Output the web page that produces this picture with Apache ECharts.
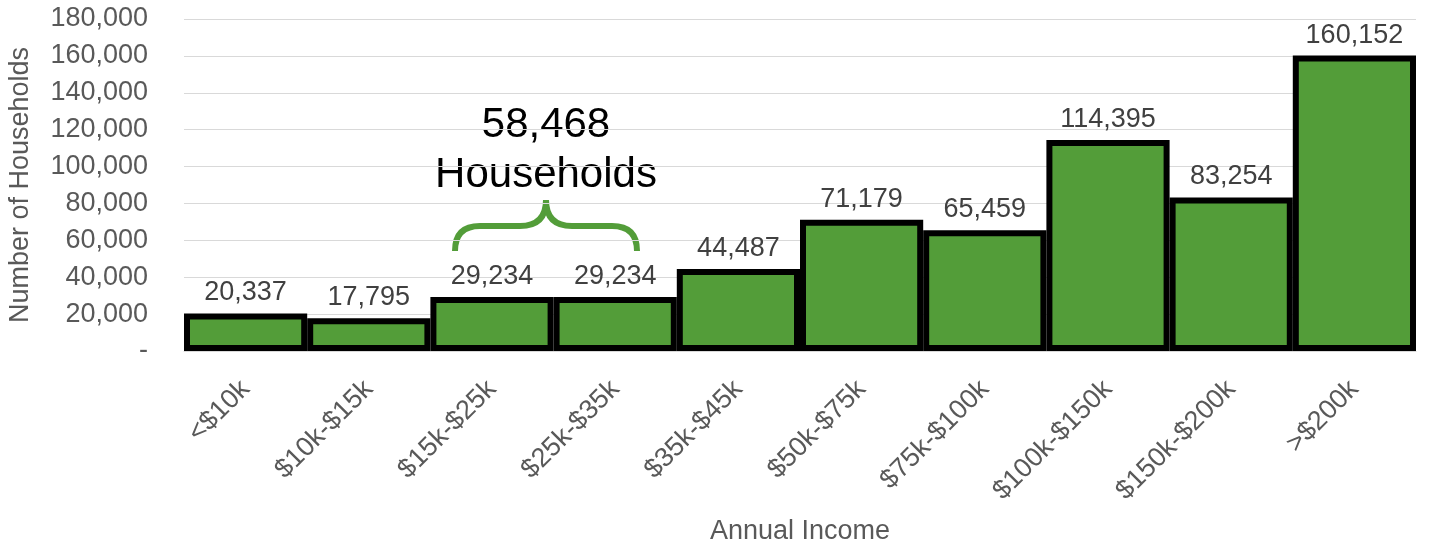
<!DOCTYPE html>
<html>
<head>
<meta charset="utf-8">
<script src="https://cdn.jsdelivr.net/npm/echarts@6/dist/echarts.min.js"></script>
<style>
  html, body { margin: 0; padding: 0; background: #fff; }
  #chart { width: 1430px; height: 546px; }
</style>
</head>
<body>
<div id="chart"></div>
<script>
// income brackets and household counts
var categories = ['<$10k', '$10k-$15k', '$15k-$25k', '$25k-$35k', '$35k-$45k',
  '$50k-$75k', '$75k-$100k', '$100k-$150k', '$150k-$200k', '>$200k'];
var households = [20337, 17795, 29234, 29234, 44487, 71179, 65459, 114395, 83254, 160152];
var yTicks = [0, 20000, 40000, 60000, 80000, 100000, 120000, 140000, 160000, 180000];
var calloutLines = ['58,468', 'Households'];

var font = 'Liberation Sans, Arial, sans-serif';
var green = '#539D39';

var chart = echarts.init(document.getElementById('chart'));

function fmt(v) {
  if (v === 0) return '-';
  return v.toString().replace(/\B(?=(\d{3})+(?!\d))/g, ',');
}

// curly brace pieces (quadratic curves + straight bits)
var braceStyle = { stroke: green, lineWidth: 6, fill: null };
function curve(x1, y1, cx, cy, x2, y2) {
  return { type: 'bezierCurve', shape: { x1: x1, y1: y1, cpx1: cx, cpy1: cy, x2: x2, y2: y2 }, style: braceStyle };
}
function seg(x1, y1, x2, y2) {
  return { type: 'line', shape: { x1: x1, y1: y1, x2: x2, y2: y2 }, style: braceStyle };
}

var option = {
  animation: false,
  textStyle: { fontFamily: font },
  grid: { left: 184, right: 14, top: 19, bottom: 195, containLabel: false, outerBoundsMode: 'none' },
  xAxis: {
    type: 'category',
    data: categories,
    name: 'Annual Income',
    nameLocation: 'middle',
    nameGap: 167,
    nameTextStyle: { fontSize: 27, color: '#595959', fontFamily: font },
    axisTick: { show: false },
    axisLine: { lineStyle: { color: '#d9d9d9' } },
    axisLabel: { rotate: 45, margin: 34, fontSize: 27, color: '#595959', fontFamily: font }
  },
  yAxis: {
    type: 'value',
    min: yTicks[0],
    max: yTicks[yTicks.length - 1],
    interval: yTicks[1] - yTicks[0],
    name: 'Number of Households',
    nameLocation: 'middle',
    nameGap: 150,
    nameTextStyle: { fontSize: 27, color: '#595959', fontFamily: font },
    axisLine: { show: false },
    axisTick: { show: false },
    splitLine: { lineStyle: { color: '#d9d9d9', width: 1 } },
    axisLabel: { margin: 36, fontSize: 27, color: '#595959', fontFamily: font, formatter: fmt }
  },
  series: [{
    type: 'bar',
    data: households,
    barCategoryGap: '0%',
    itemStyle: { color: green, borderColor: '#000', borderWidth: 6 },
    label: {
      show: true,
      position: 'top',
      distance: 7,
      fontSize: 27,
      color: '#404040',
      fontFamily: font,
      formatter: function (p) { return fmt(p.value); }
    }
  }],
  graphic: [
    {
      type: 'text',
      x: 546, y: 104,
      style: { text: calloutLines[0], fontSize: 42, fontFamily: font, fill: '#000', align: 'center', verticalAlign: 'top' }
    },
    {
      type: 'text',
      x: 546, y: 154,
      style: { text: calloutLines[1], fontSize: 42, fontFamily: font, fill: '#000', align: 'center', verticalAlign: 'top' }
    },
    curve(455, 251, 455, 226, 480, 226),
    seg(480, 226, 520, 226),
    curve(520, 226, 546, 226, 546, 200),
    curve(546, 200, 546, 226, 572, 226),
    seg(572, 226, 612, 226),
    curve(612, 226, 637, 226, 637, 251)
  ]
};

chart.setOption(option);
</script>
</body>
</html>
